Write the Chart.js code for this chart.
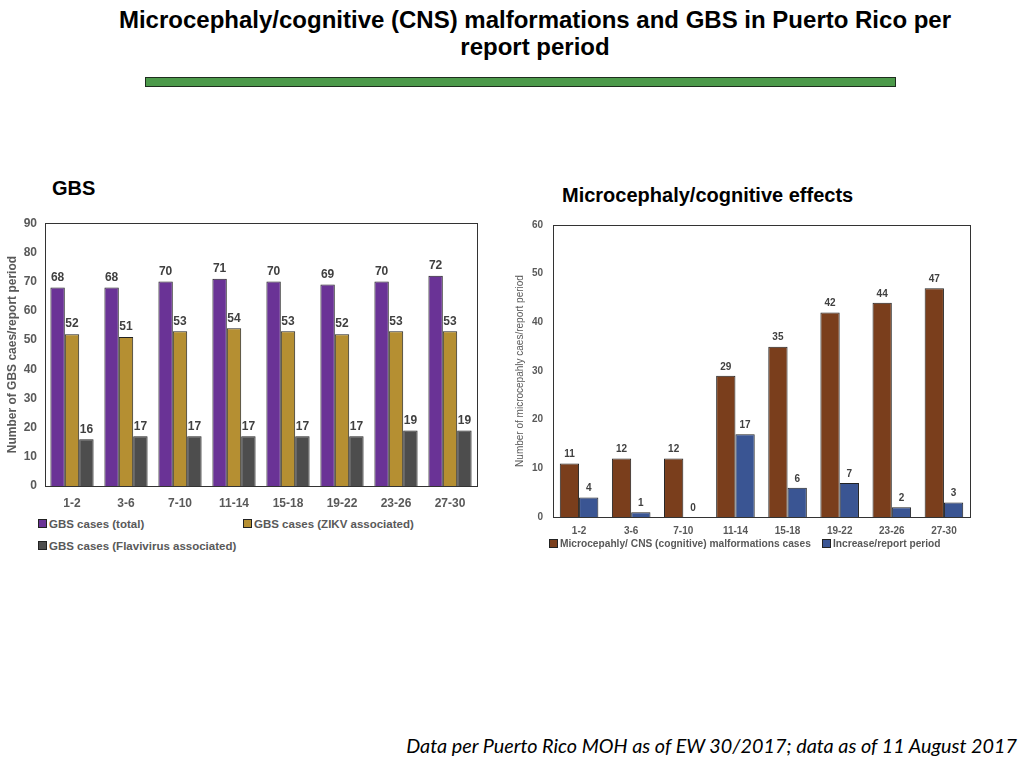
<!DOCTYPE html>
<html>
<head>
<meta charset="utf-8">
<script src="https://cdn.jsdelivr.net/npm/chart.js@4.4.0/dist/chart.umd.min.js"></script>
<style>
  html, body { margin:0; padding:0; background:#fff; }
  body { width:1024px; height:768px; position:relative; overflow:hidden; font-family:"Liberation Sans", Arial, sans-serif; }
  #title { position:absolute; left:0; width:1070px; top:6px; text-align:center; font-family:"Liberation Sans Narrow","Liberation Sans",sans-serif; font-weight:bold; font-size:24px; line-height:27px; color:#000; }
  #bar { position:absolute; left:145px; top:77px; width:749px; height:8px; background:#4c9a4a; border:1px solid #1e2e1e; }
  .head { position:absolute; font-weight:bold; font-size:20px; color:#000; }
  .cwrap { position:absolute; }
  .leg { position:absolute; font-weight:bold; color:#595959; white-space:nowrap; }
  .leg .sw { display:inline-block; width:7px; height:7px; border:1px solid #222; margin-right:2px; vertical-align:middle; position:relative; top:-1px; }
  #foot { position:absolute; right:7px; top:733px; font-family:"Lato",sans-serif; font-style:italic; font-size:19.8px; color:#000; }
</style>
</head>
<body>
<div id="title">Microcephaly/cognitive (CNS) malformations and GBS in Puerto Rico per<br>report period</div>
<div id="bar"></div>
<div class="head" style="left:52px; top:177px;">GBS</div>
<div class="head" style="left:562px; top:184px;">Microcephaly/cognitive effects</div>
<div class="cwrap" style="left:0px; top:208px; width:490px; height:306px;"><canvas id="c1"></canvas></div>
<div class="cwrap" style="left:500px; top:209px; width:490px; height:332px;"><canvas id="c2"></canvas></div>
<div id="leg1"></div>
<div id="leg2"></div>
<div id="foot">Data per Puerto Rico MOH as of EW 30/2017; data as of 11 August 2017</div>
<script>
// ---- data ----
const periods = ["1-2","3-6","7-10","11-14","15-18","19-22","23-26","27-30"];
const gbsTotal = [68,68,70,71,70,69,70,72];
const gbsZikv = [52,51,53,54,53,52,53,53];
const gbsFlavi = [16,17,17,17,17,17,19,19];
const gbsLabels = ["GBS cases (total)","GBS cases (ZIKV associated)","GBS cases (Flavivirus associated)"];
const gbsTicks = [0,10,20,30,40,50,60,70,80,90];
const micCases = [11,12,12,29,35,42,44,47];
const micIncrease = [4,1,0,17,6,7,2,3];
const micLabels = ["Microcepahly/ CNS (cognitive) malformations cases","Increase/report period"];
const micTicks = [0,10,20,30,40,50,60];

const gbsColors = ["#6a3396","#b58f32","#4d4d4d"];
const micColors = ["#7a3e1c","#3a5593"];

const boxPlugin = {
  id:'box',
  afterDatasetsDraw(chart, args, opts){
    const {ctx, chartArea:a} = chart;
    ctx.save();
    ctx.strokeStyle = opts.color || '#333';
    ctx.lineWidth = 1;
    ctx.strokeRect(Math.round(a.left)+0.5, Math.round(a.top)+0.5, Math.round(a.right-a.left), Math.round(a.bottom-a.top));
    ctx.restore();
  }
};
const labelPlugin = {
  id:'vlabels',
  afterDatasetsDraw(chart, args, opts){
    const ctx = chart.ctx;
    ctx.save();
    ctx.font = opts.font;
    ctx.fillStyle = opts.color;
    ctx.textAlign = 'center';
    ctx.textBaseline = 'bottom';
    chart.data.datasets.forEach((ds, di) => {
      const meta = chart.getDatasetMeta(di);
      meta.data.forEach((el, i) => {
        ctx.fillText(String(ds.data[i]), el.x, el.y - opts.gap);
      });
    });
    ctx.restore();
  }
};

function mkChart(id, values, labels, colors, ticks, opt){
  return new Chart(document.getElementById(id), {
    type:'bar',
    data:{ labels:periods, datasets: values.map((v,i)=>({ label:labels[i], data:v, backgroundColor:colors[i], borderColor:'#222', borderWidth:1, borderSkipped:'bottom', categoryPercentage:opt.cat, barPercentage:1 })) },
    options:{
      responsive:true, maintainAspectRatio:false, animation:false,
      layout:{ padding:opt.pad },
      plugins:{ legend:{display:false}, tooltip:{enabled:false}, box:{color:'#333'},
        vlabels:{ font:opt.lblFont, color:'#404040', gap:opt.gap } },
      scales:{
        x:{ grid:{display:false, drawTicks:false}, border:{display:false},
            ticks:{ color:'#595959', font:{family:'Liberation Sans', weight:'bold', size:opt.xSize}, padding:opt.xPad },
            afterFit(s){ s.height = opt.xH; } },
        y:{ min:0, max:ticks[ticks.length-1], afterBuildTicks(s){ s.ticks = ticks.map(v=>({value:v})); },
            grid:{display:false, drawTicks:false}, border:{display:false},
            ticks:{ color:'#595959', font:{family:'Liberation Sans', weight:'bold', size:opt.ySize}, padding:opt.yPad },
            title:{ display:true, text:opt.yTitle, color:'#595959', padding:0, font:{family:'Liberation Sans', weight:opt.tWeight, size:opt.tSize} },
            afterFit(s){ s.width = opt.yW; } }
      }
    },
    plugins:[boxPlugin, labelPlugin]
  });
}

mkChart('c1', [gbsTotal,gbsZikv,gbsFlavi], gbsLabels, gbsColors, gbsTicks,
  { cat:0.8, pad:{left:5,right:13,top:9,bottom:0}, xSize:12, xPad:10, xH:28, ySize:12, yPad:8, yW:40,
    yTitle:'Number of GBS caes/report period', tWeight:'bold', tSize:12, lblFont:'bold 12px "Liberation Sans"', gap:4 });
mkChart('c2', [micCases,micIncrease], micLabels, micColors, micTicks,
  { cat:0.74, pad:{left:14,right:20,top:8,bottom:0}, xSize:10, xPad:8, xH:24, ySize:10, yPad:10, yW:39,
    yTitle:'Number of microcepahly caes/report period', tWeight:'normal', tSize:10, lblFont:'bold 10px "Liberation Sans"', gap:4 });

// HTML legends built from the series names
function legend(id, labels, colors, pos, size){
  const root = document.getElementById(id);
  labels.forEach((t,i)=>{
    const d = document.createElement('div');
    d.className='leg';
    d.style.left = pos[i][0]+'px'; d.style.top = pos[i][1]+'px'; d.style.fontSize = size+'px';
    d.innerHTML = '<span class="sw" style="background:'+colors[i]+'"></span>';
    d.appendChild(document.createTextNode(t));
    root.appendChild(d);
  });
}
legend('leg1', gbsLabels, gbsColors, [[38,518],[243,518],[38,540]], 11.5);
legend('leg2', micLabels, micColors, [[549,538],[822,538]], 10.2);
</script>
</body>
</html>
